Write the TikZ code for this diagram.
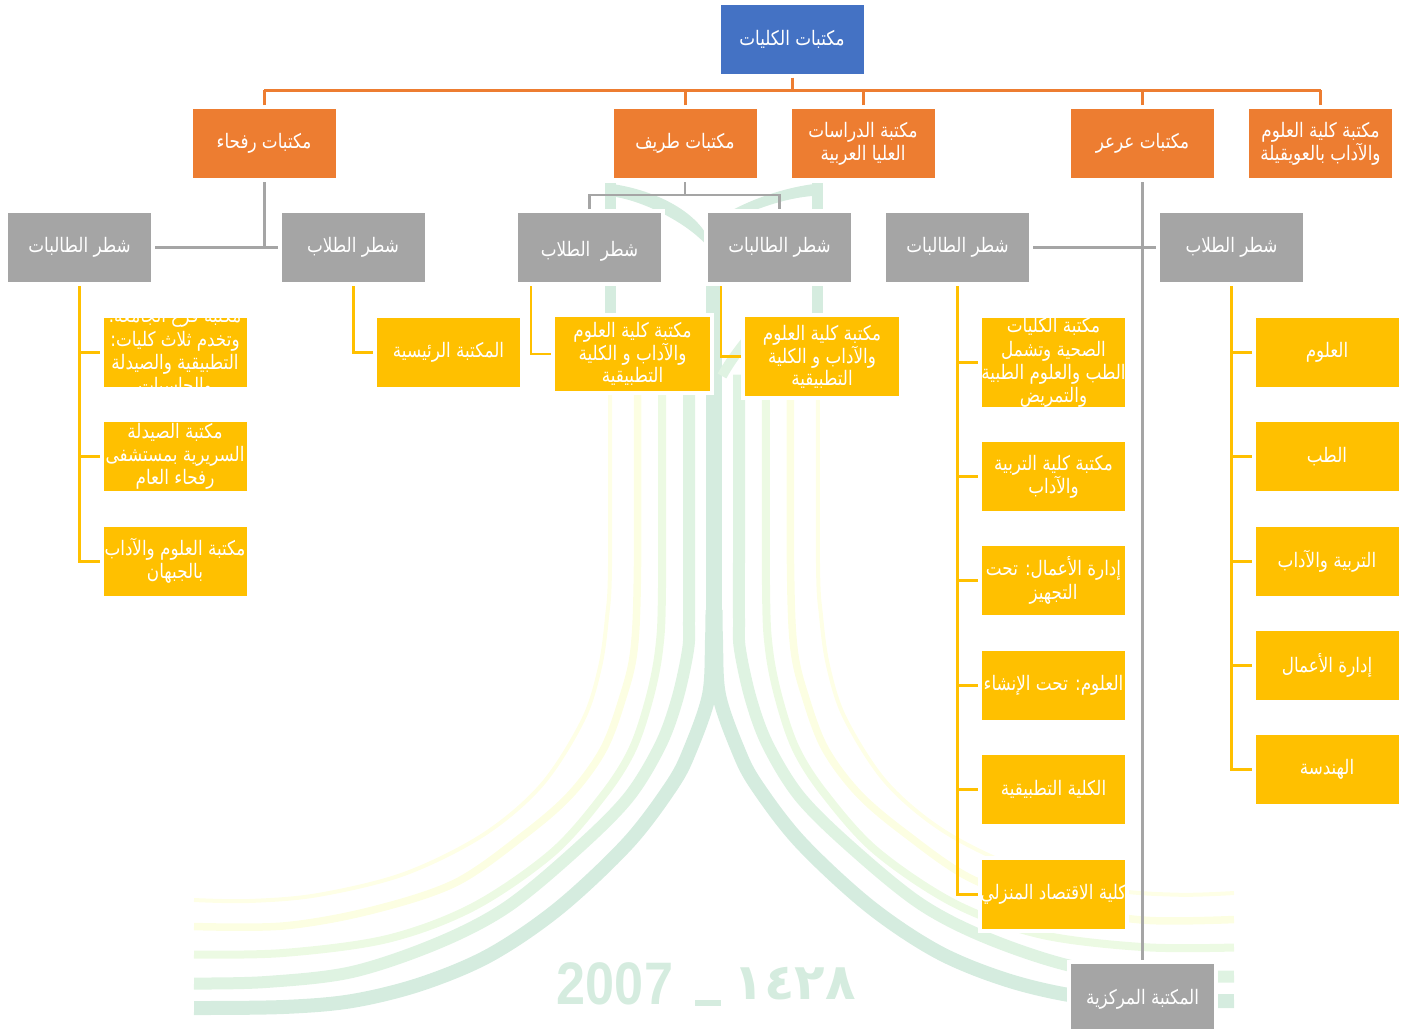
\documentclass[tikz,border=0pt]{standalone}
\usepackage{fontspec}
\TeXXeTstate=1
\newfontfamily\arabicfont[Script=Arabic,FakeStretch=0.84]{DejaVu Sans}
\newfontfamily\arabicwide[Script=Arabic]{DejaVu Sans}
\newfontfamily\yearfont{Liberation Sans}
\newcommand{\ar}[1]{\beginR #1\endR}
\definecolor{cblue}{HTML}{4472C4}
\definecolor{corange}{HTML}{ED7D31}
\definecolor{cgray}{HTML}{A5A5A5}
\definecolor{cyell}{HTML}{FFC000}
\definecolor{wa}{HTML}{D5ECDF}
\definecolor{wb}{HTML}{DFF3E2}
\definecolor{wc}{HTML}{ECFAE3}
\definecolor{wd}{HTML}{FCFEE2}
\definecolor{we}{HTML}{FEFFE6}
\tikzset{
  boxbase/.style={rectangle,inner sep=0pt,outer sep=4pt,text=white,align=center,
    minimum width=143,minimum height=69,
    preaction={draw=white,line width=8pt},
    font=\arabicfont\fontsize{20}{23.3}\selectfont},
  topbox/.style={boxbase,fill=cblue},
  orbox/.style={boxbase,fill=corange},
  grbox/.style={boxbase,fill=cgray},
  yebox/.style={boxbase,fill=cyell},
  overtext/.style={inner sep=0pt,text=white,align=center,font=\arabicfont\fontsize{20}{23.3}\selectfont},
  orline/.style={draw=corange,line width=3pt},
  grline/.style={draw=cgray,line width=3pt},
  grthin/.style={draw=cgray,line width=2.2pt},
  yeline/.style={draw=cyell,line width=3pt},
  yethin/.style={draw=cyell,line width=2.5pt},
}
\newcommand{\halflogo}{%
  \draw[we,line width=4pt] plot[smooth,tension=.55] coordinates {(610,380) (610,566) (607,617) (600,667) (583,720) (541.6,785) (483,835) (404,874) (318,895) (249,901) (194,900)};
  \draw[wd,line width=7.5pt] plot[smooth,tension=.55] coordinates {(637.5,380) (637.5,566) (634,650) (622,700) (603,750) (570,795) (524,835) (455,883) (369,911) (283,926) (194,926.5)};
  \draw[wc,line width=8pt] plot[smooth,tension=.55] coordinates {(662,380) (662,587) (659,650) (649,700) (632,750) (603.5,795) (552,853) (473,907) (387,939) (283,953) (194,954.5)};
  \draw[wb,line width=12pt] plot[smooth,tension=.55] coordinates {(689,375) (689,545) (689,620) (688,650) (677,700) (660,746) (628,798) (576,850) (507,907) (438,943) (352,972) (266,982) (194,983.5)};
  \draw[wa,line width=14pt] plot[smooth,tension=.55] coordinates {(712.5,610) (712,640) (709,695) (690,750) (672,785) (628,843) (559,908) (490,955) (421,984) (352,1001) (283,1007) (194,1008)};
}
\begin{document}
\begin{tikzpicture}[x=1pt,y=-1pt]
\useasboundingbox (0,0) rectangle (1407,1029);
% watermark
\halflogo
\begin{scope}[xshift=1428pt,yshift=9.61pt,xscale=-1,yslant=-0.01346]
\halflogo
\end{scope}
\fill[wa] (705.5,240) rectangle (722,650);
\fill[wa] (605,183) rectangle (616,320);
\fill[wa] (812,183) rectangle (822.6,320);
\fill[wa] (605,183) .. controls (650,188) and (690,208) .. (705.5,233) -- (705.5,244) .. controls (685,222) and (645,202) .. (616,197) -- cycle;
\fill[wa] (822.6,183) .. controls (790,186) and (755,197) .. (725,214) -- (745,214) .. controls (770,204) and (790,198) .. (812,196) -- (822.6,196) -- cycle;
\draw[wb,line width=10pt] (722,376) .. controls (728,365) and (735,355) .. (746,341);
\node[text=wa,font=\yearfont\bfseries\fontsize{60}{60}\selectfont,xscale=.87,inner sep=0pt] (yearlatin) at (615,984) {2007};
\fill[wa] (695,1000) rectangle (721,1006);
\node[text=wa,font=\arabicwide\bfseries\fontsize{50}{50}\selectfont,inner sep=0pt] (yeararab) at (795,984) {١٤٢٨};
% boxes
\node[topbox] (root) at (792,39) {\ar{مكتبات الكليات}};
\node[orbox] (raf) at (264,143.5) {\ar{مكتبات رفحاء}};
\node[orbox] (tur) at (685,143.5) {\ar{مكتبات طريف}};
\node[orbox] (grad) at (863,143.5) {\ar{مكتبة الدراسات}\\\ar{العليا العربية}};
\node[orbox] (arr) at (1142.5,143.5) {\ar{مكتبات عرعر}};
\node[orbox] (uwq) at (1320.5,143.5) {\ar{مكتبة كلية العلوم}\\\ar{والآداب بالعويقيلة}};
\node[grbox] (rg) at (79.5,247.5) {\ar{شطر الطالبات}};
\node[grbox] (rb) at (353,247.5) {\ar{شطر الطلاب}};
\node[grbox] (tg1) at (589.5,247.5) {};
\node[overtext,yshift=-4pt] (tg1t) at (tg1.center) {\ar{شطر~~الطلاب}};
\node[grbox] (tg2) at (779.5,247.5) {\ar{شطر الطالبات}};
\node[grbox] (ag) at (957.5,247.5) {\ar{شطر الطالبات}};
\node[grbox] (ab) at (1231.5,247.5) {\ar{شطر الطلاب}};
\node[yebox] (ry1) at (175,352.5) {};
\node[overtext] (ry1t) at (ry1.center) {\ar{مكتبة فرع الجامعة:}\\\ar{وتخدم ثلاث كليات:}\\\ar{التطبيقية والصيدلة}\\\ar{والحاسبات}};
\node[yebox] (ry2) at (175,456.5) {};
\node[overtext] (ry2t) at (ry2.center) {\ar{مكتبة الصيدلة}\\\ar{السريرية بمستشفى}\\\ar{رفحاء العام}};
\node[yebox] (ry3) at (175,561) {};
\node[overtext] (ry3t) at (ry3.center) {\ar{مكتبة العلوم والآداب}\\\ar{بالجبهان}};
\node[yebox] (rby) at (448.5,352.5) {\ar{المكتبة الرئيسية}};
\node[yebox,minimum width=155,minimum height=74,font=\arabicfont\fontsize{20}{22}\selectfont] (ty1) at (632.5,354) {\ar{مكتبة كلية العلوم}\\\ar{والآداب و الكلية}\\\ar{التطبيقية}};
\node[yebox,minimum width=154,minimum height=79,font=\arabicfont\fontsize{20}{22}\selectfont] (ty2) at (822,356.5) {\ar{مكتبة كلية العلوم}\\\ar{والآداب و الكلية}\\\ar{التطبيقية}};
\node[yebox,minimum height=89] (ay1) at (1053.5,362.5) {};
\node[overtext] (ay1t) at (ay1.center) {\ar{مكتبة الكليات}\\\ar{الصحية وتشمل}\\\ar{الطب والعلوم الطبية}\\\ar{والتمريض}};
\node[yebox] (ay2) at (1053.5,476.5) {\ar{مكتبة كلية التربية}\\\ar{والآداب}};
\node[yebox] (ay3) at (1053.5,580.5) {\ar{إدارة الأعمال: تحت}\\\ar{التجهيز}};
\node[yebox] (ay4) at (1053.5,685.5) {};
\node[overtext] (ay4t) at (ay4.center) {\ar{العلوم: تحت الإنشاء}};
\node[yebox] (ay5) at (1053.5,789.5) {\ar{الكلية التطبيقية}};
\node[yebox] (ay6) at (1053.5,894.5) {};
\node[overtext] (ay6t) at (ay6.center) {\ar{كلية الاقتصاد المنزلي}};
\node[yebox] (by1) at (1327,352.5) {\ar{العلوم}};
\node[yebox] (by2) at (1327,456.5) {\ar{الطب}};
\node[yebox] (by3) at (1327,561) {\ar{التربية والآداب}};
\node[yebox] (by4) at (1327,665.5) {\ar{إدارة الأعمال}};
\node[yebox] (by5) at (1327,769.5) {\ar{الهندسة}};
\node[grbox,minimum height=65] (cent) at (1142.5,996.5) {};
\node[overtext,yshift=-2.5pt] (centt) at (cent.center) {\ar{المكتبة المركزية}};
% connector helpers
\coordinate (bus) at (792,90);
\coordinate (tbus) at (685,195);
\coordinate (tfree) at (531,286);
\coordinate (ufree) at (721,286);
% orange bus
\draw[orline] (root.south) -- (root.south |- bus);
\draw[orline] (raf.north |- bus) -- (uwq.north |- bus);
\foreach \c in {raf,tur,grad,arr,uwq} \draw[orline] (\c.north) -- (\c.north |- bus);
% gray
\draw[grline] (raf.south) -- (raf.south |- rg.east);
\draw[grline] (rg.east) -- (rb.west);
\draw[grthin] (tur.south) -- (tur.south |- tbus);
\draw[grthin] (tg1.north) -- (tg1.north |- tbus) -- (tg2.north |- tbus) -- (tg2.north);
\draw[grline] (arr.south) -- (cent.north);
\draw[grline] (ag.east) -- (ab.west);
% yellow
\foreach \c in {ry1,ry2,ry3} \draw[yeline] (rg.south) |- (\c.west);
\draw[yeline] (rb.south) |- (rby.west);
\draw[yethin] (tfree) |- (ty1.west);
\draw[yethin] (ufree) |- (ty2.west);
\foreach \c in {ay1,ay2,ay3,ay4,ay5,ay6} \draw[yeline] (ag.south) |- (\c.west);
\foreach \c in {by1,by2,by3,by4,by5} \draw[yeline] (ab.south) |- (\c.west);
\end{tikzpicture}
\end{document}
